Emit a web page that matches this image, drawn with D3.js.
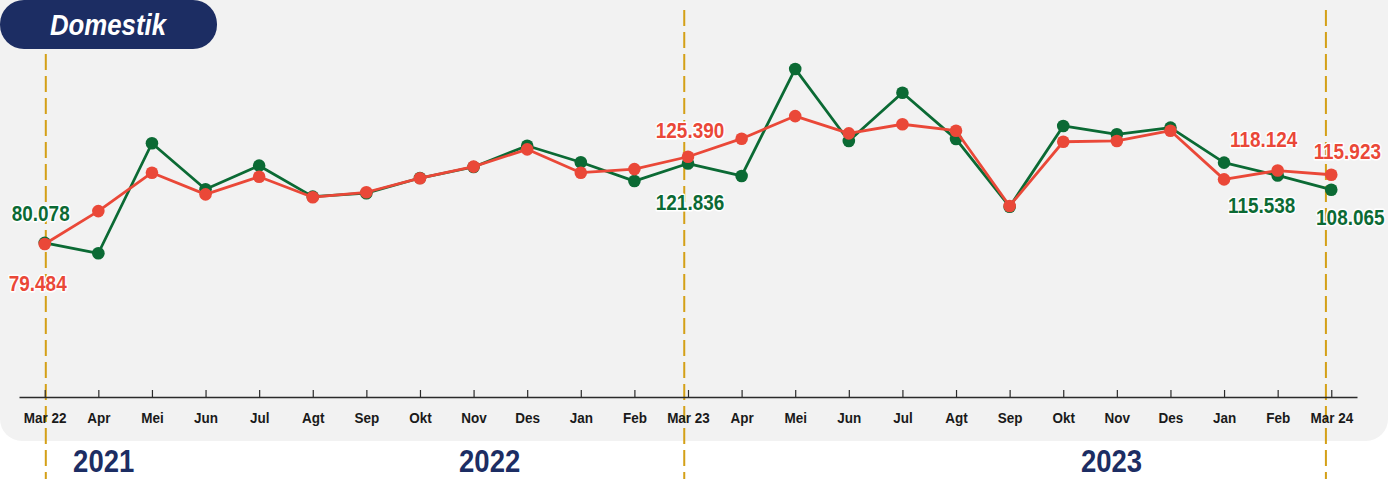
<!DOCTYPE html>
<html>
<head>
<meta charset="utf-8">
<script src="https://cdn.jsdelivr.net/npm/d3@7"></script>
<style>
    body { margin: 0; background: #fff; }
    svg { display: block; }
    text { font-family: "Liberation Sans", Arial, sans-serif; font-weight: bold; }
</style>
</head>
<body>
<div id="chart"></div>
<script>
// Monthly categories, Mar 2022 .. Mar 2024
const months = ["Mar 22", "Apr", "Mei", "Jun", "Jul", "Agt", "Sep", "Okt", "Nov", "Des", "Jan", "Feb",
                "Mar 23", "Apr", "Mei", "Jun", "Jul", "Agt", "Sep", "Okt", "Nov", "Des", "Jan", "Feb", "Mar 24"];

// green series (labelled ones exact)
const greenValues = [80.078, 74.6, 132.5, 108.3, 120.7, 104.4, 106.2, 114.2, 120.0, 131.2, 122.5, 112.6,
                     121.836, 115.3, 171.6, 133.7, 159.1, 134.7, 99.1, 141.6, 137.2, 140.7, 122.3, 115.538, 108.065];

// red series
const redValues = [79.484, 96.8, 117.0, 105.6, 114.9, 104.1, 106.7, 114.1, 120.2, 129.3, 117.0, 118.9,
                   125.390, 134.9, 146.8, 137.7, 142.5, 139.1, 99.5, 133.3, 133.7, 139.1, 113.5, 118.124, 115.923];

// which points carry a value label
const labelledPoints = [0, 12, 23, 24];

// year captions under the axis, and where they sit (in category index units)
const yearLabels = ["2021", "2022", "2023"];
const yearLabelAt = [1.1, 8.3, 19.9];

// dashed year markers (category index)
const markerAt = [0.02, 11.93, 23.9];

const title = "Domestik";

const W = 1388, H = 479;
const GREEN = "#0b6a34", RED = "#ea4838", NAVY = "#1c2d63", GOLD = "#d4a017";

// label offsets relative to their point: [dx, dy] for green and red
const greenOffsets = { 0: [-4, -30], 12: [2, 39], 23: [-16, 30], 24: [19, 27] };
const redOffsets = { 0: [-7, 39], 12: [2, -27], 23: [-14, -31], 24: [16, -24] };

const svg = d3.select("#chart").append("svg")
    .attr("width", W)
    .attr("height", H);

// grey panel
svg.append("rect")
    .attr("x", 0).attr("y", -40)
    .attr("width", W).attr("height", 481)
    .attr("rx", 22)
    .attr("fill", "#f2f2f2");

const idx = d3.range(months.length);

const x = d3.scalePoint()
    .domain(idx)
    .range([19, 1357])
    .padding(0.48);

const xi = d3.scaleLinear()
    .domain([0, months.length - 1])
    .range([x(0), x(months.length - 1)]);

const y = d3.scaleLinear()
    .domain([0, 200])
    .range([395, 15]);

// dashed markers
svg.append("g")
    .selectAll("line")
    .data(markerAt)
    .enter().append("line")
    .attr("x1", d => xi(d)).attr("x2", d => xi(d))
    .attr("y1", 10).attr("y2", H)
    .attr("stroke", GOLD)
    .attr("stroke-width", 2)
    .attr("stroke-dasharray", "16,6");

// x axis
const axis = svg.append("g")
    .attr("transform", "translate(0,397)")
    .call(d3.axisBottom(x)
        .tickSizeInner(-7)
        .tickSizeOuter(0)
        .tickPadding(15)
        .tickFormat(i => months[i]));

axis.select(".domain").attr("stroke", "#2b2b2b").attr("stroke-width", 1.6);
axis.selectAll(".tick line").attr("stroke", "#2b2b2b").attr("stroke-width", 1.2);
axis.selectAll(".tick text")
    .attr("fill", "#1a1a1a")
    .attr("font-size", 15)
    .attr("font-weight", "bold")
    .attr("font-family", "'Liberation Sans', Arial, sans-serif")
    .attr("transform", "scale(0.9,1)");

// year captions
svg.append("g")
    .selectAll("text")
    .data(yearLabels)
    .enter().append("text")
    .attr("transform", (d, i) => `translate(${xi(yearLabelAt[i])},472) scale(0.86,1)`)
    .attr("text-anchor", "middle")
    .attr("font-size", 32)
    .attr("fill", NAVY)
    .text(d => d);

// series
function drawSeries(values, color) {
    const line = d3.line()
        .x((d, i) => x(i))
        .y(d => y(d));

    const g = svg.append("g");
    g.append("path")
        .datum(values)
        .attr("fill", "none")
        .attr("stroke", color)
        .attr("stroke-width", 2.8)
        .attr("stroke-linejoin", "round")
        .attr("d", line);

    g.selectAll("circle")
        .data(values)
        .enter().append("circle")
        .attr("cx", (d, i) => x(i))
        .attr("cy", d => y(d))
        .attr("r", 6.3)
        .attr("fill", color);
}

drawSeries(greenValues, GREEN);
drawSeries(redValues, RED);

// value labels
function drawLabels(values, color, offsets) {
    svg.append("g")
        .selectAll("text")
        .data(labelledPoints)
        .enter().append("text")
        .attr("transform", i => `translate(${x(i) + offsets[i][0]},${y(values[i]) + offsets[i][1]}) scale(0.86,1)`)
        .attr("dy", "0.36em")
        .attr("text-anchor", "middle")
        .attr("font-size", 22)
        .attr("fill", color)
        .attr("stroke", "#fff")
        .attr("stroke-width", 3)
        .attr("stroke-linejoin", "round")
        .attr("paint-order", "stroke")
        .text(i => values[i].toFixed(3));
}

drawLabels(greenValues, GREEN, greenOffsets);
drawLabels(redValues, RED, redOffsets);

// title pill
svg.append("rect")
    .attr("x", 0).attr("y", 0)
    .attr("width", 217).attr("height", 49)
    .attr("rx", 24)
    .attr("fill", NAVY);

svg.append("text")
    .attr("transform", "translate(108,35) scale(0.86,1)")
    .attr("text-anchor", "middle")
    .attr("font-size", 30)
    .attr("font-style", "italic")
    .attr("fill", "#fff")
    .text(title);
</script>
</body>
</html>
